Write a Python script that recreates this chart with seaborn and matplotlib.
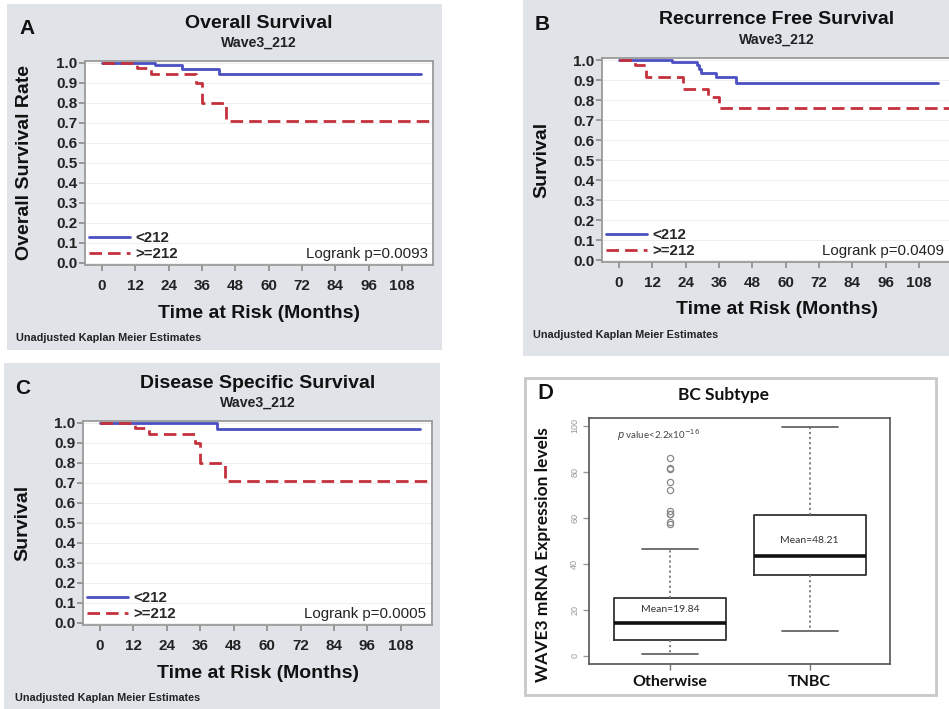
# Wave3_212 survival panels (A-C) and WAVE3 expression by BC subtype (D)

import numpy as np
import pandas as pd
import seaborn as sns
import matplotlib.pyplot as plt
from matplotlib.patches import Rectangle
from matplotlib.lines import Line2D

W, H = 949, 709

# Kaplan Meier steps (months, survival)
os_low_t = [0, 19, 29, 42, 115]
os_low_s = [1.0, 0.99, 0.97, 0.945, 0.945]
os_high_t = [0, 12.6, 17.7, 34, 35.9, 44.8, 118]
os_high_s = [1.0, 0.975, 0.945, 0.90, 0.80, 0.71, 0.71]

rfs_low_t = [0, 19, 28, 28.8, 29.5, 35, 42, 115]
rfs_low_s = [1.0, 0.988, 0.975, 0.955, 0.937, 0.917, 0.883, 0.883]
rfs_high_t = [0, 5.8, 9.6, 23.2, 31.9, 36.1, 119]
rfs_high_s = [1.0, 0.976, 0.917, 0.856, 0.814, 0.758, 0.758]

dss_low_t = [0, 42, 115]
dss_low_s = [1.0, 0.972, 0.972]
dss_high_t = [0, 12.6, 17.7, 34.1, 35.9, 44.9, 118]
dss_high_s = [1.0, 0.975, 0.947, 0.90, 0.80, 0.712, 0.712]

groups = ['<212', '>=212']
month_ticks = [0, 12, 24, 36, 48, 60, 72, 84, 96, 108]
surv_ticks = [0.0, 0.1, 0.2, 0.3, 0.4, 0.5, 0.6, 0.7, 0.8, 0.9, 1.0]

# box summaries for panel D
subtypes = ['Otherwise', 'TNBC']
whisker_low = [0.7, 11.0]
q1 = [6.9, 35.2]
median = [14.2, 43.4]
q3 = [25.0, 61.2]
whisker_high = [46.3, 99.6]
means = [19.84, 48.21]
otherwise_outliers = [57.2, 58.0, 61.5, 61.8, 63.0, 72.1, 75.4, 81.0, 81.4, 85.8]

BLUE = '#4b4fc2'
RED = '#c4303c'
PANEL_GRAY = '#e0e4e9'
DASH = (0, (4.5, 2.2))

sns.set_theme(style='white')
plt.rcParams['font.family'] = ['Liberation Sans', 'DejaVu Sans']


def fx(x):
    return x / W


def fy(y):
    return 1 - y / H


def rect(x0, y0, x1, y1):
    return [x0 / W, 1 - y1 / H, (x1 - x0) / W, (y1 - y0) / H]


def gray_panel(fig, x0, y0, x1, y1):
    fig.patches.append(Rectangle((fx(x0), fy(y1)), (x1 - x0) / W, (y1 - y0) / H,
                                 transform=fig.transFigure, facecolor=PANEL_GRAY,
                                 edgecolor='none', zorder=-5))


def km_panel(fig, box, t_low, s_low, t_high, s_high, p):
    ax = fig.add_axes(rect(*box))
    df = pd.concat([
        pd.DataFrame({'month': t_low, 'surv': s_low, 'group': groups[0]}),
        pd.DataFrame({'month': t_high, 'surv': s_high, 'group': groups[1]}),
    ])
    sns.lineplot(data=df, x='month', y='surv', hue='group', style='group',
                 palette={groups[0]: BLUE, groups[1]: RED},
                 dashes={groups[0]: '', groups[1]: (4.5, 2.2)},
                 drawstyle='steps-post', estimator=None, errorbar=None,
                 linewidth=2, legend=False, ax=ax)
    ax.set_xlim(-6.1, 119.2)
    ax.set_ylim(-0.01, 1.01)
    ax.set_xticks(month_ticks)
    ax.set_yticks(surv_ticks)
    ax.set_yticklabels([f'{v:.1f}' for v in surv_ticks])
    ax.set_xlabel('')
    ax.set_ylabel('')
    ax.grid(axis='y', color='#efefef', linewidth=0.8)
    ax.set_axisbelow(True)
    for s in ax.spines.values():
        s.set_color('#9a9a9a')
        s.set_linewidth(1.3)
    ax.tick_params(axis='both', direction='out', colors='#8a8a8a', length=4,
                   width=1.2, labelsize=11, labelcolor='#222222',
                   bottom=True, left=True)
    ax.tick_params(axis='y', pad=1.5)
    ax.tick_params(axis='x', pad=6)
    for lab in ax.get_xticklabels() + ax.get_yticklabels():
        lab.set_fontweight('bold')
    handles = [Line2D([], [], color=BLUE, lw=2),
               Line2D([], [], color=RED, lw=2, linestyle=DASH)]
    ax.legend(handles, groups, loc='lower left', bbox_to_anchor=(0.012, 0.02),
              frameon=False, handlelength=2.75, handletextpad=0.35,
              labelspacing=0.12, borderaxespad=0, borderpad=0,
              prop={'weight': 'bold', 'size': 10.8})
    ax.text(0.984, 0.055, f'Logrank p={p}', transform=ax.transAxes,
            ha='right', va='center', fontsize=10.8, color='#222222')
    return ax


def km_text(fig, letter, lx, ly, title, cx, ty, ylabel, yx, yc, foot_x, foot_y):
    fig.text(fx(lx), fy(ly), letter, ha='center', va='center', fontsize=15,
             fontweight='bold', color='#111111')
    fig.text(fx(cx), fy(ty), title, ha='center', va='center', fontsize=14,
             fontweight='bold', color='#111111')
    fig.text(fx(cx), fy(ty + 20), 'Wave3_212', ha='center', va='center',
             fontsize=10.2, fontweight='bold', color='#222222')
    fig.text(fx(cx), fy(ty + 290), 'Time at Risk (Months)', ha='center',
             va='center', fontsize=14, fontweight='bold', color='#111111')
    fig.text(fx(yx), fy(yc), ylabel, ha='center', va='center', rotation=90,
             fontsize=14, fontweight='bold', color='#111111')
    fig.text(fx(foot_x), fy(foot_y), 'Unadjusted Kaplan Meier Estimates',
             ha='left', va='center', fontsize=7.8, fontweight='bold',
             color='#222222')


fig = plt.figure(figsize=(W / 100, H / 100), dpi=100)
fig.patch.set_facecolor('white')

gray_panel(fig, 7, 4, 442, 350)
gray_panel(fig, 523, 0, 949, 356)
gray_panel(fig, 4, 363, 440, 709)

# A
km_panel(fig, (85, 61, 433, 265), os_low_t, os_low_s, os_high_t, os_high_s, '0.0093')
km_text(fig, 'A', 27, 29, 'Overall Survival', 259, 23, 'Overall Survival Rate',
        25, 163, 16, 338)

# B
km_panel(fig, (602, 58, 950, 262), rfs_low_t, rfs_low_s, rfs_high_t, rfs_high_s, '0.0409')
km_text(fig, 'B', 542, 25, 'Recurrence Free Survival', 777, 20, 'Survival',
        542, 160, 533, 335)

# C
km_panel(fig, (83, 421, 432, 625), dss_low_t, dss_low_s, dss_high_t, dss_high_s, '0.0005')
km_text(fig, 'C', 23, 388, 'Disease Specific Survival', 258, 383, 'Survival',
        23, 523, 15, 698)

# D - box plot, built from the read five-number summaries
rows = []
for i, name in enumerate(subtypes):
    outs = otherwise_outliers if name == 'Otherwise' else []
    k = len(outs) + 1
    vals = ([whisker_low[i]] + [q1[i]] * k + [median[i]] * k + [q3[i]] * k
            + [whisker_high[i]] + outs)
    rows.append(pd.DataFrame({'subtype': name, 'level': vals}))
box_df = pd.concat(rows)

fig.patches.append(Rectangle((fx(525), fy(695)), (936 - 525) / W, (695 - 378) / H,
                             transform=fig.transFigure, facecolor='white',
                             edgecolor='#c9c9c9', linewidth=2, zorder=-5))
axd = fig.add_axes(rect(589, 418, 890, 664))
sns.boxplot(data=box_df, x='subtype', y='level', order=subtypes, ax=axd,
            width=0.8, fill=False, color='#333333', linewidth=1.3, whis=1.5,
            whiskerprops={'linestyle': (0, (1.2, 1.6)), 'color': '#777777'},
            capprops={'color': '#666666'},
            medianprops={'linewidth': 2.6, 'color': '#111111'},
            flierprops={'marker': 'o', 'markersize': 4.5, 'markerfacecolor': 'none',
                        'markeredgecolor': '#8a8a8a', 'markeredgewidth': 0.9})
axd.set_xlim(-0.58, 1.575)
axd.set_ylim(-3.5, 103.3)
axd.set_yticks([0, 20, 40, 60, 80, 100])
axd.set_xlabel('')
axd.set_ylabel('')
for s in axd.spines.values():
    s.set_color('#555555')
    s.set_linewidth(1.2)
axd.tick_params(axis='y', direction='out', length=4, width=1, colors='#999999',
                labelsize=6.5, pad=3, left=True)
for lab in axd.get_yticklabels():
    lab.set_rotation(90)
    lab.set_va('center')
axd.tick_params(axis='x', direction='out', length=4, width=1, colors='#777777',
                labelcolor='#111111', labelsize=11.5, pad=4, bottom=True)
for lab in axd.get_xticklabels():
    lab.set_fontweight('bold')
    lab.set_family(['Lato', 'DejaVu Sans'])
for i, m in enumerate(means):
    axd.text(i, m + 0.5 if i == 0 else m + 1.7, f'Mean={m:.2f}', ha='center',
             va='center', fontsize=7.5, color='#333333', family=['Lato', 'DejaVu Sans'])
axd.text(-0.38, 96, r'$p$ value<2.2x10$^{-16}$', ha='left', va='center',
         fontsize=7, color='#444444', family=['Lato', 'DejaVu Sans'])

fig.text(fx(545), fy(393), 'D', ha='center', va='center', fontsize=15,
         fontweight='bold', color='#111111', family=['Lato', 'DejaVu Sans'])
fig.text(fx(723), fy(395), 'BC Subtype', ha='center', va='center', fontsize=12.5,
         fontweight='bold', color='#111111', family=['Lato', 'DejaVu Sans'])
fig.text(fx(543), fy(555), 'WAVE3 mRNA Expression levels', ha='center',
         va='center', rotation=90, fontsize=12.5, fontweight='bold',
         color='#111111', family=['Lato', 'DejaVu Sans'])

fig.savefig('out.png', dpi=100)
